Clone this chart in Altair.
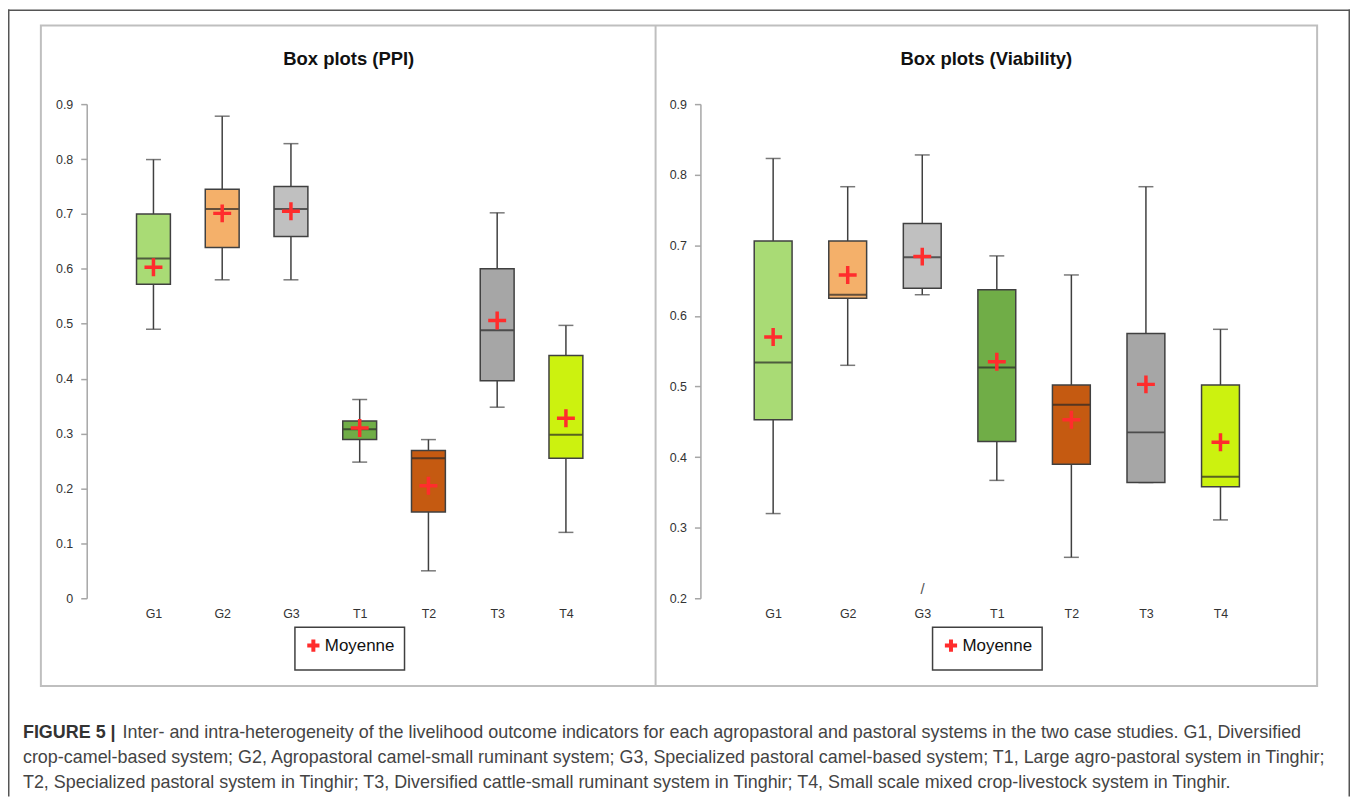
import altair as alt
import pandas as pd

# ---------------- data ----------------
CATS = ["G1", "G2", "G3", "T1", "T2", "T3", "T4"]
FILLS = ["#A9DB75", "#F4B06A", "#C0C0C0", "#70AD47", "#C55A11", "#A6A6A6", "#CCF20F"]

PPI_LO   = [0.49, 0.58, 0.58, 0.248, 0.05, 0.348, 0.12]
PPI_Q1   = [0.572, 0.639, 0.659, 0.289, 0.157, 0.396, 0.255]
PPI_MED  = [0.619, 0.709, 0.709, 0.308, 0.255, 0.488, 0.298]
PPI_Q3   = [0.70, 0.745, 0.75, 0.323, 0.269, 0.60, 0.442]
PPI_HI   = [0.799, 0.878, 0.828, 0.362, 0.289, 0.702, 0.497]
PPI_MEAN = [0.603, 0.701, 0.705, 0.31, 0.205, 0.506, 0.328]

VIA_LO   = [0.32, 0.53, 0.63, 0.367, 0.258, 0.364, 0.311]
VIA_Q1   = [0.453, 0.625, 0.639, 0.422, 0.39, 0.364, 0.358]
VIA_MED  = [0.534, 0.63, 0.683, 0.527, 0.474, 0.435, 0.372]
VIA_Q3   = [0.706, 0.706, 0.731, 0.637, 0.502, 0.575, 0.502]
VIA_HI   = [0.823, 0.783, 0.828, 0.685, 0.658, 0.783, 0.581]
VIA_MEAN = [0.570, 0.658, 0.684, 0.535, 0.453, 0.503, 0.421]

PPI_TICKS = [0, 0.1, 0.2, 0.3, 0.4, 0.5, 0.6, 0.7, 0.8, 0.9]
VIA_TICKS = [0.2, 0.3, 0.4, 0.5, 0.6, 0.7, 0.8, 0.9]

TITLES = ["Box plots (PPI)", "Box plots (Viability)"]
LEGEND_LABEL = "Moyenne"

CAPTION_BOLD = "FIGURE 5 |"
CAPTION_LINES = [
    "Inter- and intra-heterogeneity of the livelihood outcome indicators for each agropastoral and pastoral systems in the two case studies. G1, Diversified",
    "crop-camel-based system; G2, Agropastoral camel-small ruminant system; G3, Specialized pastoral camel-based system; T1, Large agro-pastoral system in Tinghir;",
    "T2, Specialized pastoral system in Tinghir; T3, Diversified cattle-small ruminant system in Tinghir; T4, Small scale mixed crop-livestock system in Tinghir.",
]

# ---------------- style ----------------
W, H = 1347, 790
SANS = "Liberation Sans, Arial, sans-serif"
PLUS = "M-1,0L1,0M0,-1L0,1"
DARK = "#404040"
RED = "#FF2D2D"


def panel(lo, q1, med, q3, hi, mean, xr, yr, ydom, yticks, box_w, yaxis_x, legend_xy):
    df = pd.DataFrame({"cat": CATS, "lo": lo, "q1": q1, "med": med, "q3": q3,
                       "hi": hi, "mean": mean, "fill": FILLS,
                       "lbl": [LEGEND_LABEL] * len(CATS)})
    xs = alt.Scale(type="point", domain=CATS, range=xr, padding=0)
    ys = alt.Scale(domain=ydom, range=yr, nice=False, zero=False)
    xax = alt.Axis(orient="bottom", offset=-(H - yr[0]), domain=False, ticks=False,
                   labelPadding=9, labelFont=SANS, labelFontSize=12.5,
                   labelColor="#333333", title=None, labelAngle=0, grid=False)
    yax = alt.Axis(orient="left", offset=-yaxis_x, values=yticks,
                   labelExpr="datum.value == 0 ? '0' : format(datum.value, '.1f')",
                   domainColor="#A6A6A6", tickColor="#A6A6A6", tickSize=6,
                   domainWidth=1.5, tickWidth=1.5, labelPadding=8, title=None,
                   grid=False, labelFont=SANS, labelFontSize=12.5,
                   labelColor="#333333")
    X = alt.X("cat:N", scale=xs, axis=xax)
    base = alt.Chart(df)

    def Y(f):
        return alt.Y(f + ":Q", scale=ys, axis=yax)

    whisk = base.mark_rule(color=DARK, strokeWidth=1.5).encode(x=X, y=Y("lo"), y2="hi:Q")
    cap_hi = base.mark_tick(size=15, thickness=1.5, color=DARK).encode(x=X, y=Y("hi"))
    cap_lo = base.mark_tick(size=15, thickness=1.5, color=DARK).encode(x=X, y=Y("lo"))
    box = base.mark_bar(size=box_w, stroke=DARK, strokeWidth=1.5).encode(
        x=X, y=Y("q1"), y2="q3:Q", fill=alt.Fill("fill:N", scale=None))
    median = base.mark_tick(size=box_w - 1, thickness=2, color="#262626").encode(x=X, y=Y("med"))
    meanpt = base.mark_point(shape=PLUS, filled=False, size=324, strokeWidth=3.5,
                             opacity=1).encode(
        x=X, y=Y("mean"),
        color=alt.Color("lbl:N", scale=alt.Scale(range=[RED]),
                        legend=alt.Legend(orient="none", legendX=legend_xy[0],
                                          legendY=legend_xy[1], title=None,
                                          strokeColor=DARK, fillColor="white",
                                          padding=10, symbolType=PLUS,
                                          symbolSize=150, symbolStrokeWidth=4,
                                          labelFont=SANS, labelFontSize=17,
                                          labelColor="#111111", labelOffset=3)))
    return alt.layer(whisk, cap_hi, cap_lo, box, median, meanpt)


left = panel(PPI_LO, PPI_Q1, PPI_MED, PPI_Q3, PPI_HI, PPI_MEAN,
             xr=[146, 560], yr=[591, 95], ydom=[0, 0.9], yticks=PPI_TICKS,
             box_w=34, yaxis_x=79, legend_xy=(288, 620))
right = panel(VIA_LO, VIA_Q1, VIA_MED, VIA_Q3, VIA_HI, VIA_MEAN,
              xr=[768, 1217], yr=[591, 95], ydom=[0.2, 0.9], yticks=VIA_TICKS,
              box_w=38, yaxis_x=695, legend_xy=(928, 620))

one = pd.DataFrame({"k": [0]})

# frames
outer_l = alt.Chart(one).mark_rule(color="#555555", strokeWidth=1.5).encode(
    x=alt.value(0.75), y=alt.value(0), y2=alt.value(H))
outer_t = alt.Chart(one).mark_rule(color="#555555", strokeWidth=1.5).encode(
    x=alt.value(0), x2=alt.value(W), y=alt.value(0.75))
outer_r = alt.Chart(one).mark_rule(color="#555555", strokeWidth=1.5).encode(
    x=alt.value(W - 0.75), y=alt.value(0), y2=alt.value(H))
inner = alt.Chart(one).mark_rect(fillOpacity=0, stroke="#BFBFBF", strokeWidth=2).encode(
    x=alt.value(33), x2=alt.value(1314), y=alt.value(16), y2=alt.value(679))
divider = alt.Chart(one).mark_rule(color="#BFBFBF", strokeWidth=2).encode(
    x=alt.value(650), y=alt.value(16), y2=alt.value(679))

# titles
t_left = alt.Chart(pd.DataFrame({"t": [TITLES[0]]})).mark_text(
    font=SANS, fontSize=18.5, fontWeight="bold", color="#111111",
    align="center", baseline="middle").encode(x=alt.value(342), y=alt.value(50), text="t:N")
t_right = alt.Chart(pd.DataFrame({"t": [TITLES[1]]})).mark_text(
    font=SANS, fontSize=18.5, fontWeight="bold", color="#111111",
    align="center", baseline="middle").encode(x=alt.value(982), y=alt.value(50), text="t:N")

# stray stroke under G3 in the viability panel
stray = alt.Chart(pd.DataFrame({"t": ["/"]})).mark_text(
    font=SANS, fontSize=15, color="#555555", align="center", baseline="middle").encode(
    x=alt.value(918), y=alt.value(582), text="t:N")

# caption
cap_b = alt.Chart(pd.DataFrame({"t": [CAPTION_BOLD]})).mark_text(
    font=SANS, fontSize=18, fontWeight="bold", color="#333333",
    align="left", baseline="middle").encode(x=alt.value(15), y=alt.value(726), text="t:N")
cap_layers = [cap_b]
cap_pos = [(115, 726), (15, 751), (15, 776)]
for line, (cx, cy) in zip(CAPTION_LINES, cap_pos):
    cap_layers.append(alt.Chart(pd.DataFrame({"t": [line]})).mark_text(
        font=SANS, fontSize=18, color="#444444", align="left",
        baseline="middle").encode(x=alt.value(cx), y=alt.value(cy), text="t:N"))

chart = alt.layer(
    inner, divider, outer_l, outer_t, outer_r, left, right, t_left, t_right, stray,
    *cap_layers
).resolve_scale(
    x="independent", y="independent", color="independent"
).properties(
    width=W, height=H, padding=0,
    autosize=alt.AutoSizeParams(type="none"),
).configure_view(strokeWidth=0).configure_legend(strokeWidth=1.5)

chart.save("out.html", embed_options={"renderer": "svg", "actions": False})
